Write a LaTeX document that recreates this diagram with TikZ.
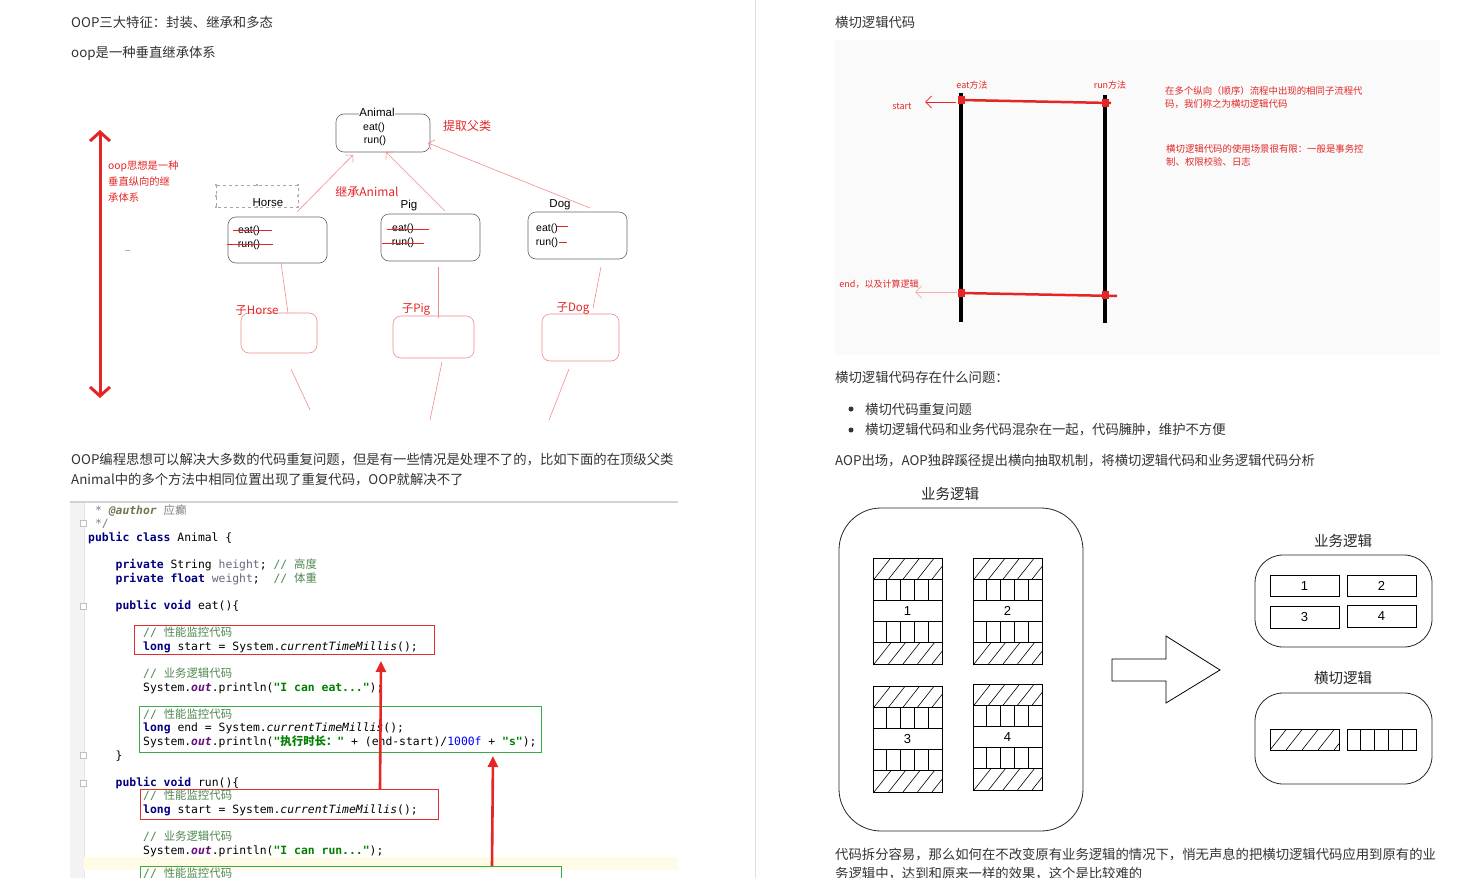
\documentclass[tikz,border=0pt]{standalone}
\usepackage{fontspec}
\setmainfont{Noto Sans CJK SC}
\newfontfamily\cjk{Noto Sans CJK SC}
\newfontfamily\mono{DejaVu Sans Mono}
\newfontfamily\arial{Liberation Sans}
\usetikzlibrary{arrows.meta,calc}
\definecolor{bodytext}{RGB}{51,51,51}
\definecolor{annred}{RGB}{228,38,38}
\definecolor{lightred}{RGB}{240,140,140}
\definecolor{kwcol}{RGB}{0,0,128}
\definecolor{cmtcol}{RGB}{128,128,128}
\definecolor{authcol}{RGB}{110,120,80}
\definecolor{cmtgreen}{RGB}{80,135,80}
\definecolor{fieldcol}{RGB}{110,100,125}
\definecolor{outcol}{RGB}{102,14,122}
\definecolor{strcol}{RGB}{0,128,0}
\definecolor{numcol}{RGB}{0,0,255}
\definecolor{boxred}{RGB}{228,45,45}
\definecolor{boxgreen}{RGB}{60,170,70}
\definecolor{gutter}{RGB}{243,243,243}
\definecolor{hilite}{RGB}{254,251,230}
\definecolor{imgbg}{RGB}{250,250,250}
\newcommand\Kw[1]{\textcolor{kwcol}{\bfseries #1}}
\newcommand\Cmt[1]{\textcolor{cmtgreen}{#1}}
\newcommand\Fld[1]{\textcolor{fieldcol}{#1}}
\newcommand\Sg[1]{\textcolor{strcol}{\bfseries #1}}
\newcommand\Nm[1]{\textcolor{numcol}{#1}}
\newcommand\Ou{\textcolor{outcol}{\bfseries\itshape out}}
\newcommand\Ctm{\textit{currentTimeMillis}}
\newcommand\Zh[1]{{\cjk #1}}
\newcommand\HatchRow[4]{%
  \begin{scope}
    \clip (#1,#2) rectangle (#3,#4);
    \foreach \k in {0,...,5}{\draw[line width=0.6pt] (#1+\k*14.5+1,#4) -- ++(17,-21.5);}
  \end{scope}
  \draw[line width=0.7pt] (#1,#2) rectangle (#3,#4);}
\newcommand\BarRow[4]{%
  \draw[line width=0.7pt] (#1,#2) rectangle (#3,#4);
  \foreach \k in {1,...,4}{\draw[line width=0.7pt] ($(#1,#2)!\k/5!(#3,#2)$) -- ($(#1,#4)!\k/5!(#3,#4)$);}}
\newcommand\LogicBlk[4]{%
  \HatchRow{#1}{#2}{#1+69}{#2+21.2}
  \BarRow{#1}{#2+21.2}{#1+69}{#2+42.4}
  \draw[line width=0.7pt] (#1,#2+42.4) rectangle (#1+69,#2+63.6);
  \node[num] (#4) at (#1+34.5,#2+53) {#3};
  \BarRow{#1}{#2+63.6}{#1+69}{#2+84.8}
  \HatchRow{#1}{#2+84.8}{#1+69}{#2+106}}
\begin{document}
\begin{tikzpicture}[x=1pt,y=-1pt,
  body/.style={anchor=west, inner sep=0, text=bodytext, font=\fontsize{13.35}{15}\selectfont},
  code/.style={anchor=base west, inner sep=0, font=\mono\fontsize{11.4}{13}\selectfont},
  uml/.style={draw=black!60, rounded corners=8pt, line width=0.6pt},
  subbox/.style={draw=lightred, rounded corners=8pt, line width=0.6pt},
  lbl/.style={inner sep=0, font=\arial\fontsize{11.5}{12}\selectfont},
  meth/.style={inner sep=0, font=\arial\fontsize{10.5}{11}\selectfont},
  rlbl/.style={inner sep=0, text=annred, font=\fontsize{11.5}{13}\selectfont},
  smallred/.style={inner sep=0, text=annred, font=\fontsize{9}{11}\selectfont},
  inh/.style={draw=lightred, line width=0.6pt, -{Straight Barb[length=5pt,width=11pt]}},
  thinred/.style={draw=lightred, line width=0.6pt},
  num/.style={inner sep=0, font=\arial\fontsize{13}{14}\selectfont},
  ttl/.style={inner sep=0, text=black!85, font=\fontsize{14.5}{16}\selectfont},
  bigbox/.style={draw=black!85, line width=0.8pt}]
\useasboundingbox (0,0) rectangle (1478,878);
\fill[white] (0,0) rectangle (1478,878);
\draw[gray!25, line width=0.8pt] (755,0) -- (755,878);

% ---------- left header text ----------
\node[body] (t1) at (71,22) {OOP三大特征：封装、继承和多态};
\node[body] (t2) at (71,53) {oop是一种垂直继承体系};

% ---------- inheritance diagram ----------
\draw[annred, line width=3pt, {Straight Barb[length=9pt,width=20pt]}-{Straight Barb[length=9pt,width=20pt]}] (100,130) -- (100,398);
\node[rlbl, anchor=west, font=\fontsize{10.3}{12}\selectfont] (oopA) at (108,166) {oop思想是一种};
\node[rlbl, anchor=west, font=\fontsize{10.3}{12}\selectfont] (oopB) at (108,182) {垂直纵向的继};
\node[rlbl, anchor=west, font=\fontsize{10.3}{12}\selectfont] (oopC) at (108,198) {承体系};
\draw[gray!60, line width=0.5pt] (125,250) -- (130,250);

\node[uml, minimum width=94, minimum height=38] (animal) at (383,133) {};
\node[lbl, fill=white, inner sep=0.5pt] (animalT) at (377,112) {Animal};
\node[meth] (aeat) at (374,128) {eat()};
\node[meth] (arun) at (375,141) {run()};
\node[rlbl, font=\fontsize{12}{13}\selectfont] (extract) at (467,126) {提取父类};

\node[uml, minimum width=99, minimum height=46] (horse) at (277.5,240) {};
\draw[gray!70, dashed, line width=0.4pt] (216,185) rectangle (298,207);
\foreach \p in {(216,185),(257,185),(298,185),(216,196),(298,196),(216,207),(257,207),(298,207)}
  {\fill[gray!60] \p ++(-1.2,-1.2) rectangle ++(2.4,2.4);}
\node[lbl] (horseT) at (268,203) {Horse};
\node[meth] (heat) at (249,231) {eat()};
\node[meth] (hrun) at (249,245) {run()};
\draw[annred, line width=0.5pt] (233,230) -- (272,230);
\draw[annred, line width=0.5pt] (227,244) -- (273,244);

\node[uml, minimum width=99, minimum height=47] (pig) at (430.5,237.5) {};
\node[lbl] (pigT) at (409,206) {Pig};
\node[meth] (peat) at (403,229) {eat()};
\node[meth] (prun) at (403,243) {run()};
\draw[annred, line width=0.5pt] (387,229) -- (429,229);
\draw[annred, line width=0.5pt] (382,243) -- (424,243);

\node[uml, minimum width=99, minimum height=47] (dog) at (577.5,235.5) {};
\node[lbl] (dogT) at (560,205) {Dog};
\node[meth] (deat) at (547,229) {eat()};
\node[meth] (drun) at (547,243) {run()};
\draw[annred, line width=0.5pt] (557,226) -- (568,226);
\draw[annred, line width=0.5pt] (559,242) -- (567,242);

\coordinate (hs) at (297,212); \coordinate (ha) at (353,155);
\coordinate (ps) at (445,211); \coordinate (pa) at (386,152);
\coordinate (ds) at (590,208); \coordinate (da) at (428,143);
\draw[inh] (hs) -- (ha);
\draw[inh] (ps) -- (pa);
\draw[inh] (ds) -- (da);
\node[rlbl, font=\fontsize{12}{13}\selectfont] (inhA) at (367,192) {继承Animal};

\node[subbox, minimum width=76, minimum height=40] (subH) at (279,333) {};
\node[subbox, minimum width=81, minimum height=42] (subP) at (433.5,337) {};
\node[subbox, minimum width=77, minimum height=47] (subD) at (580.5,337.5) {};
\node[rlbl] (subHT) at (257,310) {子Horse};
\node[rlbl] (subPT) at (416,309) {子Pig};
\node[rlbl] (subDT) at (573,308) {子Dog};
\coordinate (h1) at (281,263); \coordinate (h2) at (288,313);
\coordinate (p1) at (438,267); \coordinate (p2) at (438,318);
\coordinate (d1) at (601,267); \coordinate (d2) at (593,308);
\draw[thinred] (h1) -- (h2);
\draw[thinred] (p1) -- (p2);
\draw[thinred] (d1) -- (d2);
\coordinate (h3) at (291,369); \coordinate (h4) at (310,410);
\coordinate (p3) at (442,362); \coordinate (p4) at (430,420);
\coordinate (d3) at (569,369); \coordinate (d4) at (549,420);
\draw[thinred] (h3) -- (h4);
\draw[thinred] (p3) -- (p4);
\draw[thinred] (d3) -- (d4);

% ---------- paragraph ----------
\node[body] (para1) at (71,460) {OOP编程思想可以解决大多数的代码重复问题，但是有一些情况是处理不了的，比如下面的在顶级父类};
\node[body] (para2) at (71,480) {Animal中的多个方法中相同位置出现了重复代码，OOP就解决不了};

% ---------- code block ----------
\fill[gutter] (70,503) rectangle (84,878);
\draw[gray!20] (84,503) -- (84,878);
\draw[gray!35, line width=1.5pt] (70,502) -- (678,502);
\fill[hilite] (84,857) rectangle (678,870);
\foreach \yy in {523,606,755,783}{\draw[gray!50, line width=0.4pt, fill=white] (80,\yy-3) rectangle (86,\yy+3);}

\node[code] (c1) at (88,514) {\textcolor{cmtcol}{\ * \textcolor{authcol}{\bfseries\itshape @author} \Zh{应癫}}};
\node[code] (c2) at (88,527) {\textcolor{cmtcol}{\ */}};
\node[code] (c3) at (88,541) {\Kw{public} \Kw{class} Animal \{};
\node[code] (c4) at (115.5,568) {\Kw{private} String \Fld{height}; \Cmt{// \Zh{高度}}};
\node[code] (c5) at (115.5,582) {\Kw{private} \Kw{float} \Fld{weight};\ \ \Cmt{// \Zh{体重}}};
\node[code] (c6) at (115.5,609) {\Kw{public} \Kw{void} eat()\{};
\node[code] (c7) at (143,636) {\Cmt{// \Zh{性能监控代码}}};
\node[code] (c8) at (143,650) {\Kw{long} start = System.\Ctm();};
\node[code] (c9) at (143,677) {\Cmt{// \Zh{业务逻辑代码}}};
\node[code] (c10) at (143,691) {System.\Ou.println(\Sg{"I can eat..."});};
\node[code] (c11) at (143,718) {\Cmt{// \Zh{性能监控代码}}};
\node[code] (c12) at (143,731) {\Kw{long} end = System.\Ctm();};
\node[code] (c13) at (143,745) {System.\Ou.println(\Sg{"\Zh{执行时长：}"} + (end-start)/\Nm{1000f} + \Sg{"s"});};
\node[code] (c14) at (115.5,759) {\}};
\node[code] (c15) at (115.5,786) {\Kw{public} \Kw{void} run()\{};
\node[code] (c16) at (143,799) {\Cmt{// \Zh{性能监控代码}}};
\node[code] (c17) at (143,813) {\Kw{long} start = System.\Ctm();};
\node[code] (c18) at (143,840) {\Cmt{// \Zh{业务逻辑代码}}};
\node[code] (c19) at (143,854) {System.\Ou.println(\Sg{"I can run..."});};
\node[code] (c20) at (143,877) {\Cmt{// \Zh{性能监控代码}}};

\draw[boxred, line width=1pt] (134,625) rectangle (434,654);
\draw[boxgreen, line width=1pt] (139,706) rectangle (541,752);
\draw[boxred, line width=1pt] (140,789) rectangle (438,819);
\draw[boxgreen, line width=1pt] (140,866) rectangle (561,884);
\coordinate (ar1s) at (380,789); \coordinate (ar1e) at (381,661);
\coordinate (ar2s) at (492,866); \coordinate (ar2e) at (493,756);
\draw[annred, line width=2.6pt, -{Triangle[length=11pt,width=10pt]}] (ar1s) -- (ar1e);
\draw[annred, line width=2.6pt, -{Triangle[length=11pt,width=10pt]}] (ar2s) -- (ar2e);

% ---------- right: crosscut figure ----------
\node[body] (r1) at (835,22) {横切逻辑代码};
\fill[imgbg] (835,40) rectangle (1440,355);
\draw[black, line width=3.5pt] (961,93) -- (961,322);
\draw[black, line width=3.5pt] (1105,95) -- (1105,323);
\draw[annred, line width=2.5pt] (961,100) -- (1111,103);
\draw[annred, line width=2.5pt] (961,293) -- (1117,296);
\foreach \p in {(961,100),(1105,103),(961,293),(1105,295)}{\fill[annred] \p ++(-3.5,-4) rectangle ++(7,8);}
\node[smallred] (eatm) at (972,85) {eat方法};
\node[smallred] (runm) at (1110,85) {run方法};
\node[smallred] (startT) at (902,106) {start};
\node[smallred] (endT) at (879,284) {end，以及计算逻辑};
\coordinate (st1) at (956,102); \coordinate (st2) at (925,102);
\coordinate (en1) at (957,292); \coordinate (en2) at (915,292);
\draw[annred, line width=0.8pt, -{Straight Barb[length=6pt,width=12pt]}] (st1) -- (st2);
\draw[lightred!70, line width=0.8pt, -{Straight Barb[length=6pt,width=12pt]}] (en1) -- (en2);
\node[smallred, anchor=west, font=\fontsize{9.4}{11}\selectfont] (n1) at (1165,91) {在多个纵向（顺序）流程中出现的相同子流程代};
\node[smallred, anchor=west, font=\fontsize{9.4}{11}\selectfont] (n2) at (1165,104) {码，我们称之为横切逻辑代码};
\node[smallred, anchor=west, font=\fontsize{9.4}{11}\selectfont] (n3) at (1166,149) {横切逻辑代码的使用场景很有限：一般是事务控};
\node[smallred, anchor=west, font=\fontsize{9.4}{11}\selectfont] (n4) at (1166,162) {制、权限校验、日志};

% ---------- right: text ----------
\node[body] (q1) at (835,377) {横切逻辑代码存在什么问题：};
\fill[bodytext] (851,409) circle (2.5);
\fill[bodytext] (851,430) circle (2.5);
\node[body] (b1) at (865,409) {横切代码重复问题};
\node[body] (b2) at (865,430) {横切逻辑代码和业务代码混杂在一起，代码臃肿，维护不方便};
\node[body] (aop) at (835,461) {AOP出场，AOP独辟蹊径提出横向抽取机制，将横切逻辑代码和业务逻辑代码分析};

% ---------- right: business logic diagram ----------
\node[ttl] (bizT) at (950,494) {业务逻辑};
\draw[bigbox, rounded corners=42pt] (839,508) rectangle (1083,831);
\LogicBlk{873}{558}{1}{blk1}
\LogicBlk{973}{558}{2}{blk2}
\LogicBlk{873}{686}{3}{blk3}
\LogicBlk{973}{684}{4}{blk4}

\draw[line width=0.8pt] (1112,659) -- (1166,659) -- (1166,636) -- (1220,670) -- (1166,703) -- (1166,681) -- (1112,681) -- cycle;

\node[ttl] (biz2T) at (1343,541) {业务逻辑};
\draw[bigbox, rounded corners=28pt] (1255,555) rectangle (1432,647);
\draw[line width=0.7pt] (1270,575) rectangle (1339,596);
\draw[line width=0.7pt] (1347,575) rectangle (1416,596);
\draw[line width=0.7pt] (1270,606) rectangle (1339,628);
\draw[line width=0.7pt] (1347,605) rectangle (1416,627);
\node[num] (s1) at (1304.5,586) {1};
\node[num] (s2) at (1381.5,586) {2};
\node[num] (s3) at (1304.5,617) {3};
\node[num] (s4) at (1381.5,616) {4};

\node[ttl] (crossT) at (1343,678) {横切逻辑};
\draw[bigbox, rounded corners=28pt] (1255,693) rectangle (1432,784);
\begin{scope}
  \clip (1270,729) rectangle (1339,750);
  \foreach \k in {0,...,4}{\draw[line width=0.6pt] (1270+\k*16,750) -- ++(17,-21.5);}
\end{scope}
\draw[line width=0.7pt] (1270,729) rectangle (1339,750);
\BarRow{1347}{729}{1416}{750}

% ---------- bottom text ----------
\node[body] (e1) at (835,855) {代码拆分容易，那么如何在不改变原有业务逻辑的情况下，悄无声息的把横切逻辑代码应用到原有的业};
\node[body] (e2) at (835,874) {务逻辑中，达到和原来一样的效果，这个是比较难的};
\end{tikzpicture}
\end{document}
